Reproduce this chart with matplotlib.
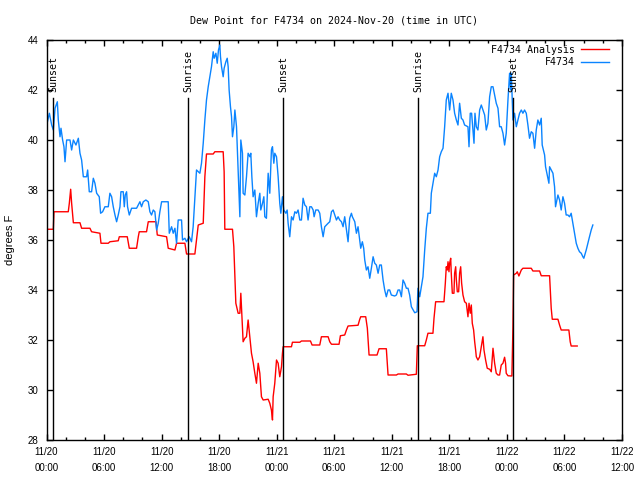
import matplotlib
matplotlib.use("Agg")
import matplotlib.pyplot as plt
from matplotlib.ticker import MultipleLocator

# hours since 2024-11-20 00:00 UTC
obs_hours = [0.02, 0.30, 0.54, 0.71, 0.89, 1.13, 1.23, 1.41, 1.51, 1.68, 1.82, 1.93, 2.10, 2.45, 2.62,
             2.80, 3.07, 3.32, 3.49, 3.66, 3.84, 4.18, 4.29, 4.46, 4.70, 4.88, 5.05, 5.23, 5.50, 5.64,
             5.85, 6.09, 6.44, 6.61, 6.79, 6.96, 7.14, 7.31, 7.48, 7.66, 7.76, 8.00, 8.11, 8.21, 8.35,
             8.45, 8.63, 8.87, 9.39, 9.74, 9.91, 10.09, 10.36, 10.61, 10.78, 10.95, 11.13, 11.30, 11.48,
             11.65, 11.82, 12.00, 12.69, 12.80, 13.04, 13.21, 13.39, 13.56, 13.73, 14.08, 14.18, 14.43,
             14.60, 14.88, 15.12, 15.29, 15.47, 15.64, 15.99, 16.16, 16.34, 16.51, 16.68, 16.86, 17.03,
             17.20, 17.38, 17.48, 17.66, 17.80, 17.93, 18.07, 18.14, 18.25, 18.42, 18.52, 18.70, 18.84,
             18.94, 19.04, 19.18, 19.29, 19.39, 19.53, 19.64, 19.81, 19.98, 20.16, 20.26, 20.43, 20.50,
             20.68, 20.85, 21.02, 21.20, 21.30, 21.41, 21.54, 21.72, 21.89, 22.07, 22.24, 22.34, 22.52,
             22.66, 22.76, 22.93, 23.11, 23.28, 23.45, 23.56, 23.70, 23.80, 23.98, 24.15, 24.32, 24.43,
             24.60, 24.74, 24.95, 25.09, 25.19, 25.36, 25.54, 25.71, 25.89, 26.06, 26.23, 26.41, 26.58,
             26.75, 26.93, 27.10, 27.27, 27.45, 27.62, 27.80, 27.90, 28.07, 28.32, 28.49, 28.66, 28.84,
             29.01, 29.36, 29.53, 29.71, 29.88, 30.05, 30.23, 30.40, 30.57, 30.75, 30.92, 31.09, 31.27,
             31.44, 31.61, 31.79, 31.89, 32.14, 32.31, 32.48, 32.59, 32.76, 32.93, 33.07, 33.18, 33.35,
             33.52, 33.70, 33.87, 34.05, 34.22, 34.39, 34.57, 34.74, 34.91, 35.09, 35.26, 35.43, 35.61,
             35.78, 35.95, 36.30, 36.48, 36.65, 36.82, 37.00, 37.17, 37.34, 37.52, 37.69, 37.86, 38.04,
             38.39, 38.63, 38.73, 38.91, 39.08, 39.25, 39.43, 39.60, 39.77, 40.02, 40.12, 40.29, 40.47,
             40.64, 40.82, 40.99, 41.16, 41.34, 41.51, 41.68, 41.86, 42.03, 42.20, 42.38, 42.55, 42.73,
             42.90, 43.07, 43.25, 43.42, 43.59, 43.94, 44.05, 44.18, 44.32, 44.46, 44.57, 44.67, 44.81,
             44.98, 45.16, 45.33, 45.50, 45.68, 45.85, 46.02, 46.20, 46.37, 46.55, 46.72, 46.89, 47.07,
             47.24, 47.41, 47.59, 47.76, 47.93, 48.11, 48.28, 48.39, 48.46, 48.63, 48.80, 48.98, 49.15,
             49.32, 49.50, 49.67, 49.84, 50.02, 50.19, 50.36, 50.54, 50.71, 50.89, 51.06, 51.23, 51.41,
             51.58, 51.68, 51.93, 52.03, 52.17, 52.38, 52.45, 52.62, 52.80, 52.97, 53.07, 53.21, 53.32,
             53.49, 53.66, 53.84, 54.01, 54.18, 54.36, 54.53, 54.70, 54.88, 55.05, 55.23, 55.40, 55.57,
             55.75, 55.92, 56.02, 56.27, 56.44, 56.61, 56.79, 56.96]
obs_dewpt = [40.60, 41.07, 40.60, 40.40, 41.27, 41.53, 40.80, 40.13, 40.47, 40.00, 39.73, 39.13, 40.00, 40.00, 39.60,
             40.00, 39.80, 40.07, 39.47, 39.20, 38.53, 38.53, 38.80, 37.93, 37.93, 38.47, 38.27, 37.87, 37.73, 37.07,
             37.13, 37.33, 37.33, 37.87, 37.73, 37.33, 37.00, 36.73, 37.00, 37.33, 37.93, 37.93, 37.33, 37.80, 37.93,
             37.33, 37.00, 37.27, 37.27, 37.53, 37.33, 37.53, 37.60, 37.53, 37.13, 37.00, 37.20, 37.13, 36.40,
             36.67, 37.13, 37.53, 37.53, 36.27, 36.53, 36.27, 36.47, 35.87, 36.80, 36.80, 36.00, 36.07,
             35.93, 36.13, 35.93, 36.53, 37.73, 38.80, 38.67, 39.07, 39.87, 40.80, 41.60, 42.13, 42.53,
             42.93, 43.53, 43.27, 43.47, 43.07, 43.60, 43.80, 43.33, 42.93, 42.53, 42.87, 43.13, 43.27,
             42.93, 42.00, 41.33, 40.93, 40.13, 40.53, 41.20, 40.53, 38.80, 36.93, 40.00, 39.47, 37.87,
             37.80, 38.53, 39.47, 39.33, 39.47, 38.53, 37.73, 38.00, 36.93, 37.47, 37.87, 37.20, 37.47,
             37.73, 36.93, 36.87, 38.67, 37.87, 39.60, 39.73, 39.07, 39.47, 39.33, 38.53, 37.47, 37.07,
             37.73, 37.20, 37.07, 37.20, 36.67, 36.13, 36.93, 36.80, 37.13, 37.07, 37.20, 36.80, 36.80,
             37.67, 37.40, 37.33, 36.80, 37.33, 37.33, 37.20, 36.93, 37.20, 37.20, 37.07, 36.53, 36.13,
             36.53, 36.67, 36.73, 37.13, 37.20, 37.00, 36.80, 36.93, 36.80, 36.73, 36.53, 36.93, 36.40,
             35.93, 36.87, 37.07, 36.93, 36.73, 36.27, 36.53, 36.20, 35.67, 35.93, 35.67, 35.20, 34.80,
             34.93, 34.47, 34.87, 35.33, 35.07, 35.00, 34.67, 35.00, 35.00, 34.40, 34.00, 33.73, 34.00,
             34.00, 33.80, 33.76, 33.80, 34.00, 34.00, 33.73, 34.40, 34.27, 34.07, 34.07, 33.80, 33.33,
             33.09, 33.13, 34.07, 33.73, 34.13, 34.53, 35.60, 36.47, 37.07, 37.07, 37.87, 38.27, 38.67,
             38.53, 38.80, 39.33, 39.53, 39.67, 40.53, 41.60, 41.87, 41.20, 41.87, 41.60, 41.07, 40.80,
             40.60, 41.47, 40.87, 40.80, 40.60, 40.53, 39.73, 41.07, 41.07, 40.40, 39.87, 41.07, 40.53,
             40.40, 41.20, 41.40, 41.20, 41.00, 40.40, 40.67, 41.73, 42.13, 42.13, 41.80, 41.47, 41.27,
             40.53, 40.53, 40.27, 39.80, 40.27, 41.60, 42.67, 42.00, 42.67, 40.80, 41.07, 40.53, 40.80,
             41.07, 41.20, 41.07, 41.20, 41.07, 40.60, 40.07, 40.33, 40.27, 39.67, 40.40, 40.80, 40.60,
             40.87, 39.80, 39.40, 38.93, 38.67, 38.27, 38.93, 38.80, 38.67, 38.13, 37.33, 37.60, 37.80,
             37.60, 37.20, 37.73, 37.47, 37.00, 37.00, 36.93, 37.07, 36.67, 36.27, 35.87, 35.67, 35.53,
             35.47, 35.33, 35.27, 35.60, 35.87, 36.13, 36.40, 36.60]

ana_hours = [0.02, 0.71, 0.78, 2.27, 2.38, 2.52, 2.62, 2.80, 3.49, 3.66, 4.53, 4.70, 5.57, 5.68, 6.44,
             6.61, 7.48, 7.59, 8.42, 8.63, 9.39, 9.57, 9.67, 10.43, 10.61, 11.41, 11.55, 12.52, 12.69,
             13.39, 13.56, 14.43, 14.60, 15.47, 15.64, 15.82, 16.34, 16.51, 16.68, 17.38, 17.55, 18.42,
             18.52, 18.59, 19.39, 19.53, 19.64, 19.74, 19.98, 20.16, 20.26, 20.33, 20.43, 20.50, 20.68,
             20.85, 21.02, 21.20, 21.37, 21.54, 21.72, 21.89, 22.07, 22.24, 22.41, 22.59, 23.11, 23.28,
             23.45, 23.56, 23.63, 23.80, 23.98, 24.15, 24.32, 24.50, 24.60, 24.67, 25.54, 25.64, 26.41,
             26.58, 27.52, 27.69, 28.49, 28.66, 29.36, 29.53, 29.71, 30.50, 30.64, 31.09, 31.27, 31.44,
             32.48, 32.66, 32.76, 33.28, 33.45, 33.63, 34.46, 34.67, 35.43, 35.61, 36.48, 36.65, 37.52,
             37.69, 38.56, 38.66, 39.43, 39.60, 39.77, 40.29, 40.40, 40.57, 41.44, 41.58, 41.68, 41.79,
             41.86, 41.96, 42.03, 42.14, 42.20, 42.31, 42.48, 42.55, 42.66, 42.73, 42.83, 42.97, 43.07,
             43.18, 43.28, 43.42, 43.59, 43.77, 43.94, 44.05, 44.18, 44.29, 44.39, 44.53, 44.64, 44.74,
             44.81, 44.98, 45.16, 45.33, 45.50, 45.61, 45.78, 45.95, 46.20, 46.37, 46.55, 46.72, 46.89,
             47.07, 47.24, 47.41, 47.59, 47.76, 47.86, 47.93, 48.11, 48.52, 48.63, 48.70, 48.98, 49.08,
             49.25, 49.50, 49.67, 50.54, 50.71, 51.41, 51.58, 52.45, 52.62, 52.73, 53.32, 53.49, 53.66,
             54.46, 54.60, 54.70, 55.33]
ana_dewpt = [36.43, 36.43, 37.13, 37.13, 37.47, 38.03, 37.47, 36.69, 36.69, 36.47, 36.47, 36.33, 36.27, 35.87, 35.87,
             35.93, 35.97, 36.13, 36.13, 35.67, 35.67, 36.13, 36.33, 36.33, 36.73, 36.73, 36.20, 36.13, 35.67,
             35.60, 35.87, 35.87, 35.44, 35.44, 36.00, 36.60, 36.67, 38.53, 39.44, 39.44, 39.53, 39.53,
             38.73, 36.43, 36.43, 35.73, 34.53, 33.47, 33.07, 33.07, 33.87, 33.33, 32.53, 31.93, 32.07,
             32.13, 32.80, 32.13, 31.47, 31.13, 30.67, 30.27, 31.07, 30.67, 29.73, 29.60, 29.63, 29.47,
             29.20, 28.80, 29.73, 30.27, 31.20, 31.07, 30.53, 30.93, 31.47, 31.73, 31.73, 31.91, 31.91,
             31.96, 31.96, 31.80, 31.80, 32.13, 32.13, 31.93, 31.83, 31.83, 32.17, 32.20, 32.40, 32.56,
             32.59, 32.83, 32.93, 32.93, 32.47, 31.40, 31.40, 31.65, 31.65, 30.60, 30.60, 30.64, 30.64,
             30.59, 30.63, 31.77, 31.77, 32.00, 32.27, 32.27, 32.87, 33.53, 33.53, 34.27, 34.93, 34.80,
             35.13, 34.73, 35.07, 35.27, 34.67, 33.87, 33.87, 34.67, 34.93, 34.40, 33.93, 33.93, 34.67,
             34.93, 34.27, 33.80, 33.53, 33.47, 32.93, 33.47, 33.07, 33.40, 32.67, 32.40, 31.93, 31.60,
             31.33, 31.20, 31.33, 31.73, 32.13, 31.60, 31.20, 30.87, 30.83, 30.73, 31.67, 31.07, 30.67,
             30.60, 30.60, 31.00, 31.07, 31.31, 31.07, 30.67, 30.57, 30.56, 32.53, 34.60, 34.67, 34.73,
             34.56, 34.80, 34.87, 34.87, 34.76, 34.76, 34.57, 34.57, 33.27, 32.83, 32.83, 32.60, 32.40,
             32.40, 31.93, 31.76, 31.76]

sun_hours = [0.71, 14.74, 24.67, 38.73, 48.63]
sun_labels = ["Sunset", "Sunrise", "Sunset", "Sunrise", "Sunset"]

tick_hours = [0, 6, 12, 18, 24, 30, 36, 42, 48, 54, 60]
tick_labels = ["11/20\n00:00", "11/20\n06:00", "11/20\n12:00", "11/20\n18:00",
               "11/21\n00:00", "11/21\n06:00", "11/21\n12:00", "11/21\n18:00",
               "11/22\n00:00", "11/22\n06:00", "11/22\n12:00"]

mono = "DejaVu Sans Mono"
sans = "Liberation Sans"

fig = plt.figure(figsize=(6.4, 4.8), dpi=100)
ax = fig.add_axes([46.5/640, 40/480, 575.5/640, 400/480])

ax.plot(ana_hours, ana_dewpt, color="#ff0000", lw=1.0, label="F4734 Analysis")
ax.plot(obs_hours, obs_dewpt, color="#0a84ff", lw=1.0, label="F4734")

for h, lab in zip(sun_hours, sun_labels):
    ax.plot([h, h], [28, 41.67], color="black", lw=1.0)
    ax.text(h, 41.93, lab, rotation=90, ha="center", va="bottom",
            family=mono, fontsize=7.2)

ax.set_xlim(0, 60)
ax.set_ylim(28, 44)
ax.set_xticks(tick_hours)
ax.set_xticklabels(tick_labels, family=sans, fontsize=7, linespacing=1.75)
ax.xaxis.set_minor_locator(MultipleLocator(2))
ax.yaxis.set_major_locator(MultipleLocator(2))
for lab in ax.get_yticklabels():
    lab.set_family(sans)
    lab.set_fontsize(7)
ax.tick_params(which="both", direction="in", top=True, right=True, width=1.0)
ax.tick_params(which="major", length=4, pad=5)
ax.tick_params(axis="y", pad=6)
ax.tick_params(which="minor", length=2)
for s in ax.spines.values():
    s.set_linewidth(1.0)

ax.set_ylabel("degrees F", family=sans, fontsize=8)
ax.yaxis.set_label_coords(-0.055, 0.5)
ax.set_title("Dew Point for F4734 on 2024-Nov-20 (time in UTC)", family=mono, fontsize=7.2, pad=12)

# markerfirst=False packs the entries right-aligned, label then line
ax.legend(loc="upper right", bbox_to_anchor=(0.986, 1.0), frameon=False, markerfirst=False,
          prop={"family": mono, "size": 7.2}, handlelength=2.8, labelspacing=0.25,
          borderaxespad=0.3, borderpad=0.2, handletextpad=0.6)

fig.savefig("out.png", dpi=100)
